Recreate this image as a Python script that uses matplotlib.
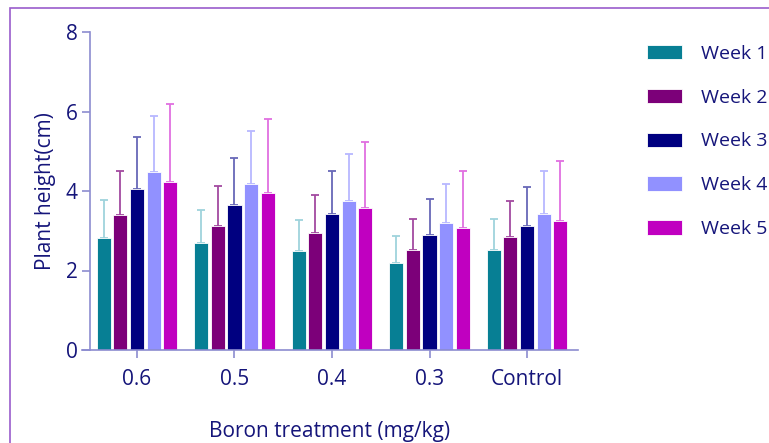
import matplotlib.pyplot as plt
import matplotlib.patches as mpatches
import numpy as np

plt.rcParams['font.family'] = ['Open Sans', 'DejaVu Sans']

# data
groups = ['0.6', '0.5', '0.4', '0.3', 'Control']
weeks = ['Week 1', 'Week 2', 'Week 3', 'Week 4', 'Week 5']
week1 = [2.83, 2.68, 2.48, 2.18, 2.51]
week2 = [3.40, 3.11, 2.94, 2.52, 2.85]
week3 = [4.05, 3.66, 3.42, 2.89, 3.13]
week4 = [4.48, 4.18, 3.74, 3.19, 3.42]
week5 = [4.23, 3.96, 3.56, 3.08, 3.25]
err1 = [0.94, 0.85, 0.80, 0.69, 0.79]
err2 = [1.10, 1.02, 0.96, 0.78, 0.91]
err3 = [1.30, 1.17, 1.08, 0.92, 0.97]
err4 = [1.41, 1.34, 1.19, 0.99, 1.08]
err5 = [1.97, 1.84, 1.67, 1.42, 1.50]

means = [week1, week2, week3, week4, week5]
errs = [err1, err2, err3, err4, err5]
colors = ['#077f94', '#7c0079', '#000080', '#9191ff', '#c000c0']
err_colors = ['#9fd3dc', '#a34aa0', '#6868b8', '#b8b8ff', '#e070e0']

text_col = '#15157a'
axis_col = '#8c8cd0'

fig = plt.figure(figsize=(7.69, 4.43), dpi=100)
ax = fig.add_axes([82/769, 93/443, 496/769, 318/443])

x = np.arange(len(groups))
step = 0.171
w = 0.145
for i in range(5):
    pos = x + (i - 2) * step
    ax.bar(pos, means[i], width=w, color=colors[i], edgecolor='white',
           linewidth=0.6, label=weeks[i], zorder=2)
    ax.errorbar(pos, means[i], yerr=[np.zeros(5), errs[i]], fmt='none',
                ecolor=err_colors[i], elinewidth=1.3, capsize=2.9,
                capthick=1.3, zorder=1)

ax.set_xlim(-0.564, 4.523)
ax.set_ylim(0, 8)
ax.set_yticks([0, 2, 4, 6, 8])
ax.set_xticks(x)
ax.set_xticklabels(groups)

for s in ['top', 'right']:
    ax.spines[s].set_visible(False)
ax.spines['left'].set_position(('data', -0.482))
ax.spines['left'].set_color(axis_col)
ax.spines['bottom'].set_color(axis_col)
ax.spines['left'].set_linewidth(1.2)
ax.spines['bottom'].set_linewidth(1.2)
ax.tick_params(axis='both', colors=axis_col, length=6, width=1.2,
               labelcolor=text_col, labelsize=15)
ax.tick_params(axis='x', pad=8)
ax.tick_params(axis='y', pad=3)

ax.set_ylabel('Plant height(cm)', fontsize=15, color=text_col, labelpad=7)
ax.set_xlabel('Boron treatment (mg/kg)', fontsize=15, color=text_col,
              labelpad=22)

leg = fig.legend(loc='upper left', bbox_to_anchor=(637/769, 1 - 35/443),
                 frameon=False, fontsize=14, handlelength=1.8,
                 handleheight=0.75, handletextpad=1.0, labelspacing=1.33,
                 borderpad=0)
for t in leg.get_texts():
    t.set_color(text_col)

# purple frame around the figure
frame = mpatches.Rectangle((10/769, -0.1), 1.2, 1.1 - 8/443,
                           transform=fig.transFigure, fill=False,
                           edgecolor='#9a5ccc', linewidth=1.2,
                           clip_on=False)
fig.patches.append(frame)

fig.savefig('out.png', dpi=100)
